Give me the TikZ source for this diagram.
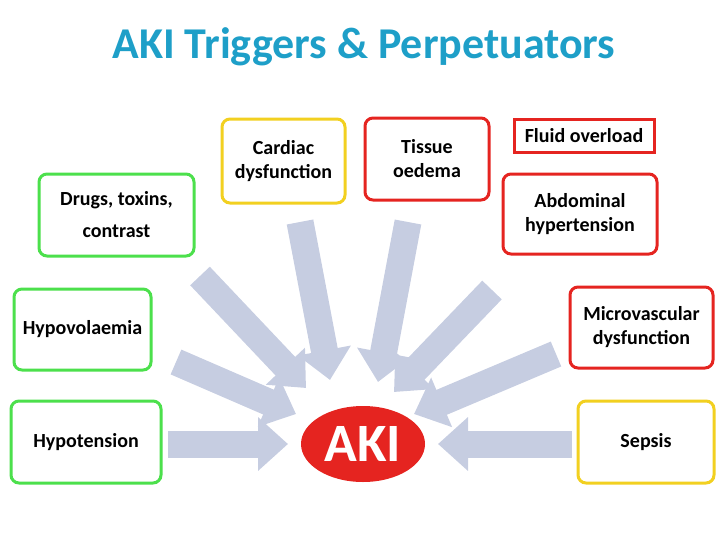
\documentclass[tikz,border=0pt]{standalone}
\usepackage{fontspec}
\setmainfont{Carlito}
\usetikzlibrary{arrows.meta,shapes.geometric}
\definecolor{tgreen}{HTML}{4CE04C}
\definecolor{tred}{HTML}{E52420}
\definecolor{tyellow}{HTML}{F2D020}
\definecolor{tarrow}{HTML}{C6CDE1}
\definecolor{ttitle}{HTML}{1E9FC8}
\tikzset{
 box/.style={draw=#1,line width=3pt,rounded corners=8pt,fill=white,align=center,inner sep=0pt,font=\bfseries\fontsize{20}{24}\selectfont},
 bigarrow/.style={draw=tarrow,line width=27pt,-{Triangle[length=30pt,width=52pt]}},
}
\begin{document}
\begin{tikzpicture}[x=1pt,y=-1pt]
\useasboundingbox (0,0) rectangle (728,546);
\node[font=\bfseries\fontsize{44}{48}\selectfont,text=ttitle] (title) at (364,47) {AKI Triggers \& Perpetuators};
\coordinate (s1) at (168,444); \coordinate (e1) at (288,444);
\coordinate (s2) at (572,444); \coordinate (e2) at (438,444);
\coordinate (s3) at (176,362); \coordinate (e3) at (296,414);
\coordinate (s4) at (200,276); \coordinate (e4) at (306,388);
\coordinate (s5) at (300,222); \coordinate (e5) at (330,380);
\coordinate (s6) at (408,222); \coordinate (e6) at (378,382);
\coordinate (s7) at (492,290); \coordinate (e7) at (394,392);
\coordinate (s8) at (556,354); \coordinate (e8) at (414,414);
\foreach \i in {1,...,8} \draw[bigarrow] (s\i) -- (e\i);
\node[draw=none,fill=tred,ellipse,inner sep=0pt,minimum width=124pt,minimum height=76pt,text=white,font=\bfseries\fontsize{54}{58}\selectfont] (aki) at (363,444) {AKI};
\node[box=tyellow,minimum width=123pt,minimum height=84pt] (cardiac) at (283.5,161) {Cardiac\\dysfunction};
\node[box=tred,minimum width=124pt,minimum height=82pt] (tissue) at (427,159) {Tissue\\oedema};
\node[box=tred,rounded corners=0pt,minimum width=140pt,minimum height=33pt] (fluid) at (584,136) {Fluid overload};
\node[box=tgreen,minimum width=155pt,minimum height=82pt,font=\bfseries\fontsize{20}{32}\selectfont] (drugs) at (116.5,215) {Drugs, toxins,\\contrast};
\node[box=tred,minimum width=154pt,minimum height=80pt] (abd) at (580,214) {Abdominal\\hypertension};
\node[box=tgreen,minimum width=137pt,minimum height=81pt] (hypov) at (82.5,329.5) {Hypovolaemia};
\node[box=tred,minimum width=143pt,minimum height=81pt] (micro) at (641.5,327.5) {Microvascular\\dysfunction};
\node[box=tgreen,minimum width=150pt,minimum height=82pt] (hypot) at (86,442) {Hypotension};
\node[box=tyellow,minimum width=136pt,minimum height=82pt] (sepsis) at (646,442) {Sepsis};
\end{tikzpicture}
\end{document}
